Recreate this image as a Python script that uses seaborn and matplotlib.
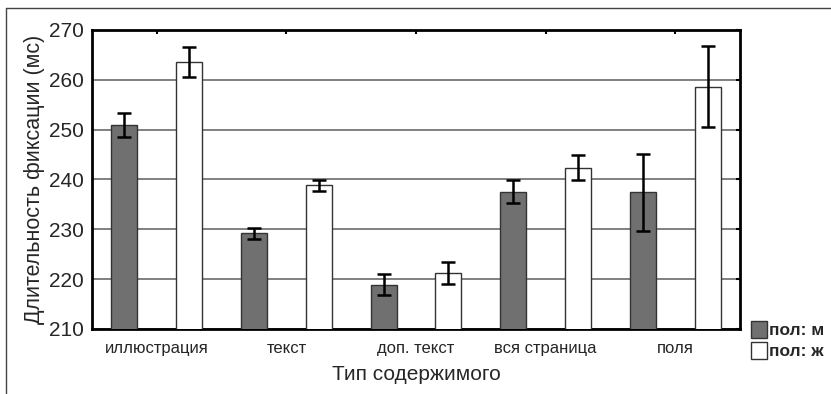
import numpy as np
import pandas as pd
import matplotlib.pyplot as plt
import seaborn as sns
from matplotlib.lines import Line2D
from matplotlib.patches import Patch

# данные
categories = ['иллюстрация', 'текст', 'доп. текст', 'вся страница', 'поля']
groups = ['пол: м', 'пол: ж']
male_mean = [250.9, 229.2, 218.9, 237.5, 237.4]
male_err = [2.35, 1.05, 2.05, 2.3, 7.75]
female_mean = [263.6, 238.8, 221.2, 242.4, 258.6]
female_err = [3.0, 1.1, 2.2, 2.55, 8.15]
yticks = [210, 220, 230, 240, 250, 260, 270]


def main():
    df = pd.DataFrame({
        'cat': categories * 2,
        'sex': [groups[0]] * 5 + [groups[1]] * 5,
        'val': male_mean + female_mean,
        'err': male_err + female_err,
    })

    sns.set_style('white')
    plt.rcParams['font.family'] = ['Liberation Sans', 'DejaVu Sans']

    fig = plt.figure(figsize=(8.31, 3.94), dpi=100)
    ax = fig.add_axes([0.1107, 0.165, 0.7798, 0.759])

    colors = {groups[0]: '#707070', groups[1]: '#ffffff'}
    sns.barplot(data=df, x='cat', y='val', hue='sex', order=categories,
                hue_order=groups, palette=colors, width=1.0, gap=0.6,
                errorbar=None, edgecolor='#333333', linewidth=1.0,
                legend=False, ax=ax, zorder=3)

    # планки погрешностей по центрам столбиков
    for i, g in enumerate(groups):
        sub = df[df['sex'] == g].set_index('cat').loc[categories]
        bars = ax.patches[i * 5:(i + 1) * 5]
        xs = [b.get_x() + b.get_width() / 2 for b in bars]
        ax.errorbar(xs, sub['val'], yerr=sub['err'], fmt='none',
                    ecolor='black', elinewidth=1.8, capsize=5.3,
                    capthick=1.8, zorder=4)

    ax.set_ylim(210, 270)
    ax.set_xlim(-0.5, 4.5)
    ax.set_yticks(yticks)
    ax.yaxis.grid(True, color='#808080', linewidth=1.4, zorder=0)
    ax.set_axisbelow(True)

    ax.tick_params(axis='both', direction='in', top=True, right=True,
                   length=3, width=1.5, color='black')
    ax.tick_params(axis='y', labelsize=15, pad=6)
    ax.tick_params(axis='x', labelsize=12, pad=9)
    for s in ax.spines.values():
        s.set_color('black')
        s.set_linewidth(2)

    ax.set_xlabel('Тип содержимого', fontsize=15, labelpad=6)
    ax.set_ylabel('Длительность фиксации (мс)', fontsize=15.5, labelpad=3)

    handles = [Patch(facecolor=colors[g], edgecolor='#333333', label=g)
               for g in groups]
    fig.legend(handles=handles, loc='upper left',
               bbox_to_anchor=(0.904, 0.185), frameon=False,
               handlelength=0.9, handleheight=1.1, handletextpad=0.1,
               labelspacing=0.22, borderaxespad=0, borderpad=0,
               prop={'size': 12.5, 'weight': 'bold'})

    # рамка рисунка (сверху и слева)
    fig.add_artist(Line2D([6 / 831, 1], [1 - 8 / 394] * 2, color='#444444',
                          linewidth=1, transform=fig.transFigure))
    fig.add_artist(Line2D([6 / 831] * 2, [0, 1 - 8 / 394], color='#444444',
                          linewidth=1, transform=fig.transFigure))

    fig.savefig('out.png', dpi=100)


if __name__ == '__main__':
    main()
